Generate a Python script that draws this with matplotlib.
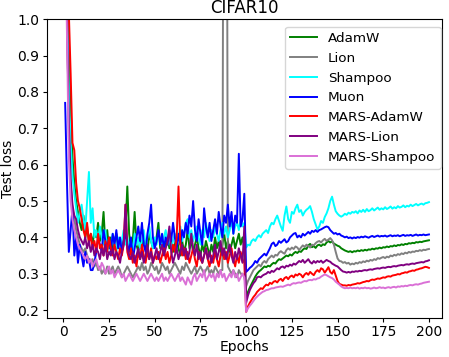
import numpy as np
import matplotlib
matplotlib.use("Agg")
import matplotlib.pyplot as plt

epochs = np.arange(1, 201)

lion = [
    1.70, 1.05, 0.68, 0.55, 0.48, 0.45, 0.42, 0.40, 0.38, 0.37,
    0.36, 0.37, 0.35, 0.34, 0.33, 0.34, 0.32, 0.33, 0.31, 0.32,
    0.30, 0.31, 0.30, 0.32, 0.30, 0.31, 0.32, 0.30, 0.31, 0.32,
    0.31, 0.29, 0.30, 0.31, 0.32, 0.31, 0.30, 0.29, 0.30, 0.31,
    0.32, 0.31, 0.33, 0.31, 0.32, 0.30, 0.31, 0.33, 0.32, 0.31,
    0.32, 0.30, 0.31, 0.33, 0.32, 0.31, 0.32, 0.30, 0.31, 0.32,
    0.33, 0.32, 0.31, 0.30, 0.32, 0.31, 0.33, 0.32, 0.31, 0.30,
    0.31, 0.32, 0.30, 0.31, 0.32, 0.31, 0.30, 0.31, 0.32, 0.30,
    0.31, 0.30, 0.32, 0.31, 0.30, 0.31, 0.31, 2.50, 2.50, 0.32,
    0.31, 0.30, 0.31, 0.30, 0.29, 0.31, 0.30, 0.30, 0.29,
    0.265, 0.28, 0.29, 0.30, 0.31, 0.315, 0.32, 0.325, 0.32, 0.33,
    0.335, 0.33, 0.34, 0.345, 0.35, 0.345, 0.352, 0.35, 0.358, 0.362,
    0.358, 0.355, 0.365, 0.37, 0.366, 0.372, 0.368, 0.375, 0.372, 0.365,
    0.372, 0.378, 0.374, 0.38, 0.376, 0.372, 0.38, 0.378, 0.384, 0.388,
    0.39, 0.386, 0.392, 0.396, 0.39, 0.394, 0.398, 0.392, 0.38, 0.36,
    0.342, 0.335, 0.334, 0.33, 0.332, 0.328, 0.33, 0.325, 0.328, 0.326,
    0.33, 0.328, 0.332, 0.33, 0.334, 0.332, 0.336, 0.334, 0.338, 0.336,
    0.34, 0.338, 0.343, 0.341, 0.344, 0.346, 0.343, 0.347, 0.345, 0.35,
    0.348, 0.352, 0.35, 0.354, 0.352, 0.356, 0.354, 0.358, 0.356, 0.36,
    0.358, 0.361, 0.36, 0.363, 0.362, 0.365, 0.363, 0.366, 0.365, 0.367,
    0.368,
]

adamw = [
    1.60, 1.20, 0.95, 0.76, 0.62, 0.55, 0.50, 0.47, 0.44, 0.42,
    0.46, 0.40, 0.43, 0.39, 0.41, 0.38, 0.42, 0.40, 0.44, 0.39,
    0.41, 0.47, 0.38, 0.42, 0.37, 0.40, 0.36, 0.39, 0.41, 0.37,
    0.38, 0.36, 0.40, 0.42, 0.54, 0.41, 0.37, 0.39, 0.47, 0.38,
    0.36, 0.39, 0.37, 0.40, 0.38, 0.36, 0.41, 0.39, 0.37, 0.38,
    0.40, 0.44, 0.37, 0.39, 0.36, 0.38, 0.40, 0.37, 0.39, 0.36,
    0.38, 0.40, 0.37, 0.35, 0.39, 0.36, 0.38, 0.42, 0.37, 0.39,
    0.36, 0.38, 0.40, 0.37, 0.35, 0.38, 0.36, 0.39, 0.37, 0.35,
    0.38, 0.36, 0.40, 0.37, 0.39, 0.36, 0.38, 0.41, 0.37, 0.39,
    0.36, 0.38, 0.40, 0.37, 0.39, 0.41, 0.38, 0.40, 0.37,
    0.235, 0.25, 0.262, 0.272, 0.282, 0.292, 0.30, 0.306, 0.31, 0.315,
    0.32, 0.318, 0.322, 0.32, 0.326, 0.33, 0.328, 0.335, 0.34, 0.338,
    0.342, 0.346, 0.35, 0.348, 0.353, 0.35, 0.356, 0.36, 0.357, 0.362,
    0.36, 0.366, 0.37, 0.368, 0.378, 0.382, 0.373, 0.376, 0.371, 0.378,
    0.38, 0.376, 0.381, 0.379, 0.386, 0.39, 0.386, 0.389, 0.383, 0.38,
    0.377, 0.375, 0.37, 0.367, 0.364, 0.362, 0.36, 0.362, 0.359, 0.362,
    0.361, 0.364, 0.362, 0.365, 0.363, 0.366, 0.364, 0.367, 0.366, 0.369,
    0.367, 0.37, 0.369, 0.372, 0.37, 0.373, 0.372, 0.375, 0.373, 0.376,
    0.375, 0.378, 0.376, 0.379, 0.378, 0.381, 0.379, 0.382, 0.381, 0.384,
    0.383, 0.385, 0.384, 0.387, 0.386, 0.388, 0.387, 0.389, 0.39, 0.391,
    0.392,
]

shampoo = [
    1.50, 1.10, 0.80, 0.66, 0.57, 0.52, 0.48, 0.44, 0.47, 0.49,
    0.45, 0.42, 0.50, 0.58, 0.44, 0.48, 0.40, 0.42, 0.39, 0.43,
    0.40, 0.38, 0.42, 0.36, 0.39, 0.37, 0.41, 0.38, 0.36, 0.40,
    0.37, 0.39, 0.42, 0.38, 0.40, 0.37, 0.39, 0.36, 0.41, 0.38,
    0.40, 0.37, 0.39, 0.42, 0.38, 0.40, 0.43, 0.39, 0.37, 0.40,
    0.38, 0.41, 0.39, 0.37, 0.40, 0.42, 0.38, 0.40, 0.37, 0.39,
    0.41, 0.38, 0.40, 0.43, 0.39, 0.41, 0.44, 0.45, 0.40, 0.42,
    0.39, 0.41, 0.43, 0.40, 0.38, 0.42, 0.40, 0.44, 0.41, 0.39,
    0.42, 0.40, 0.43, 0.41, 0.39, 0.42, 0.44, 0.41, 0.43, 0.40,
    0.42, 0.45, 0.41, 0.43, 0.44, 0.42, 0.45, 0.43, 0.44,
    0.372, 0.38, 0.378, 0.39, 0.395, 0.39, 0.40, 0.406, 0.40, 0.41,
    0.415, 0.42, 0.412, 0.43, 0.44, 0.436, 0.45, 0.46, 0.445, 0.43,
    0.418, 0.46, 0.485, 0.45, 0.44, 0.47, 0.465, 0.48, 0.49, 0.47,
    0.475, 0.46, 0.47, 0.476, 0.48, 0.486, 0.47, 0.45, 0.436, 0.422,
    0.43, 0.445, 0.44, 0.456, 0.466, 0.48, 0.50, 0.512, 0.49, 0.472,
    0.465, 0.46, 0.457, 0.46, 0.465, 0.462, 0.468, 0.465, 0.47, 0.468,
    0.472, 0.466, 0.474, 0.47, 0.476, 0.47, 0.478, 0.472, 0.475, 0.48,
    0.474, 0.478, 0.482, 0.476, 0.48, 0.477, 0.483, 0.478, 0.481, 0.485,
    0.479, 0.483, 0.48, 0.486, 0.482, 0.484, 0.488, 0.483, 0.487, 0.485,
    0.49, 0.486, 0.489, 0.492, 0.488, 0.491, 0.493, 0.49, 0.494, 0.495,
    0.497,
]

muon = [
    0.77, 0.55, 0.36, 0.42, 0.48, 0.35, 0.40, 0.33, 0.38, 0.35,
    0.32, 0.36, 0.33, 0.34, 0.31, 0.31, 0.33, 0.36, 0.40, 0.38,
    0.36, 0.42, 0.39, 0.37, 0.40, 0.36, 0.41, 0.38, 0.42, 0.37,
    0.40, 0.36, 0.39, 0.41, 0.38, 0.36, 0.40, 0.34, 0.37, 0.40,
    0.43, 0.39, 0.44, 0.38, 0.36, 0.41, 0.44, 0.49, 0.40, 0.37,
    0.39, 0.42, 0.38, 0.41, 0.37, 0.40, 0.38, 0.42, 0.39, 0.44,
    0.40, 0.37, 0.41, 0.38, 0.42, 0.40, 0.44, 0.41, 0.46, 0.43,
    0.50, 0.42, 0.39, 0.45, 0.41, 0.38, 0.48, 0.43, 0.40, 0.44,
    0.39, 0.42, 0.45, 0.41, 0.47, 0.43, 0.40, 0.46, 0.44, 0.49,
    0.43, 0.47, 0.41, 0.46, 0.44, 0.63, 0.43, 0.45, 0.52,
    0.305, 0.31, 0.316, 0.32, 0.326, 0.335, 0.33, 0.34, 0.345, 0.35,
    0.355, 0.35, 0.36, 0.37, 0.382, 0.386, 0.376, 0.38, 0.39, 0.385,
    0.39, 0.395, 0.386, 0.39, 0.40, 0.405, 0.41, 0.412, 0.40, 0.405,
    0.40, 0.41, 0.405, 0.41, 0.415, 0.41, 0.418, 0.415, 0.42, 0.415,
    0.42, 0.422, 0.425, 0.428, 0.43, 0.428, 0.42, 0.415, 0.41, 0.412,
    0.408, 0.41, 0.405, 0.403, 0.40, 0.402, 0.398, 0.40, 0.397, 0.40,
    0.398, 0.401, 0.399, 0.402, 0.40, 0.403, 0.401, 0.399, 0.402, 0.404,
    0.401, 0.403, 0.405, 0.402, 0.404, 0.403, 0.405, 0.402, 0.404, 0.406,
    0.403, 0.405, 0.404, 0.406, 0.403, 0.405, 0.407, 0.404, 0.406, 0.405,
    0.407, 0.404, 0.406, 0.408, 0.405, 0.407, 0.406, 0.408, 0.406, 0.407,
    0.408,
]

mars_adamw = [
    1.80, 1.30, 1.02, 0.85, 0.66, 0.64, 0.55, 0.50, 0.48, 0.45,
    0.42, 0.40, 0.44, 0.38, 0.41, 0.37, 0.39, 0.36, 0.41, 0.37,
    0.38, 0.35, 0.39, 0.36, 0.40, 0.37, 0.35, 0.38, 0.36, 0.34,
    0.37, 0.35, 0.38, 0.49, 0.36, 0.34, 0.37, 0.33, 0.35, 0.32,
    0.36, 0.34, 0.38, 0.35, 0.33, 0.36, 0.34, 0.37, 0.33, 0.35,
    0.34, 0.36, 0.33, 0.35, 0.37, 0.34, 0.36, 0.33, 0.35, 0.38,
    0.36, 0.40, 0.54, 0.38, 0.35, 0.37, 0.34, 0.36, 0.33, 0.35,
    0.37, 0.34, 0.32, 0.36, 0.34, 0.33, 0.35, 0.37, 0.34, 0.32,
    0.35, 0.33, 0.36, 0.34, 0.32, 0.35, 0.37, 0.34, 0.36, 0.33,
    0.35, 0.37, 0.34, 0.32, 0.35, 0.33, 0.36, 0.34, 0.33,
    0.195, 0.21, 0.22, 0.228, 0.236, 0.242, 0.25, 0.255, 0.26, 0.258,
    0.265, 0.27, 0.268, 0.275, 0.272, 0.278, 0.28, 0.276, 0.283, 0.286,
    0.28, 0.288, 0.291, 0.285, 0.292, 0.295, 0.29, 0.298, 0.295, 0.30,
    0.297, 0.29, 0.298, 0.302, 0.297, 0.305, 0.30, 0.296, 0.305, 0.31,
    0.305, 0.315, 0.312, 0.303, 0.31, 0.318, 0.305, 0.30, 0.31, 0.295,
    0.28, 0.272, 0.27, 0.268, 0.268, 0.267, 0.269, 0.268, 0.27, 0.271,
    0.272, 0.274, 0.273, 0.275, 0.277, 0.278, 0.28, 0.279, 0.282, 0.284,
    0.283, 0.285, 0.287, 0.286, 0.288, 0.29, 0.289, 0.292, 0.293, 0.292,
    0.295, 0.296, 0.297, 0.299, 0.298, 0.301, 0.302, 0.304, 0.303, 0.306,
    0.307, 0.309, 0.308, 0.311, 0.312, 0.314, 0.315, 0.317, 0.319, 0.318,
    0.316,
]

mars_lion = [
    1.40, 1.00, 0.72, 0.56, 0.49, 0.46, 0.45, 0.42, 0.40, 0.39,
    0.38, 0.40, 0.37, 0.39, 0.36, 0.38, 0.35, 0.37, 0.36, 0.34,
    0.37, 0.35, 0.38, 0.34, 0.36, 0.35, 0.37, 0.34, 0.36, 0.35,
    0.33, 0.36, 0.38, 0.49, 0.37, 0.35, 0.34, 0.36, 0.33, 0.35,
    0.37, 0.34, 0.36, 0.33, 0.35, 0.38, 0.34, 0.36, 0.33, 0.35,
    0.37, 0.34, 0.36, 0.38, 0.35, 0.37, 0.39, 0.43, 0.36, 0.33,
    0.35, 0.37, 0.34, 0.36, 0.38, 0.35, 0.37, 0.34, 0.36, 0.41,
    0.37, 0.35, 0.38, 0.34, 0.36, 0.33, 0.35, 0.37, 0.34, 0.36,
    0.33, 0.35, 0.38, 0.34, 0.36, 0.39, 0.35, 0.37, 0.34, 0.36,
    0.38, 0.35, 0.33, 0.36, 0.34, 0.37, 0.35, 0.33, 0.43,
    0.22, 0.24, 0.255, 0.265, 0.274, 0.28, 0.29, 0.292, 0.29, 0.295,
    0.298, 0.30, 0.305, 0.302, 0.308, 0.305, 0.31, 0.315, 0.312, 0.318,
    0.32, 0.316, 0.322, 0.32, 0.325, 0.322, 0.328, 0.325, 0.33, 0.335,
    0.332, 0.338, 0.33, 0.335, 0.34, 0.332, 0.328, 0.335, 0.33, 0.335,
    0.332, 0.336, 0.33, 0.334, 0.338, 0.335, 0.333, 0.328, 0.325, 0.322,
    0.32, 0.315, 0.31, 0.306, 0.305, 0.303, 0.305, 0.303, 0.306, 0.305,
    0.307, 0.306, 0.308, 0.307, 0.309, 0.31, 0.309, 0.311, 0.312, 0.311,
    0.313, 0.314, 0.315, 0.314, 0.316, 0.317, 0.316, 0.318, 0.319, 0.318,
    0.32, 0.321, 0.32, 0.322, 0.323, 0.324, 0.323, 0.325, 0.326, 0.325,
    0.327, 0.328, 0.327, 0.329, 0.33, 0.331, 0.332, 0.331, 0.334, 0.335,
    0.337,
]

mars_shampoo = [
    1.30, 0.95, 0.62, 0.50, 0.45, 0.42, 0.40, 0.38, 0.37, 0.36,
    0.35, 0.34, 0.35, 0.33, 0.34, 0.32, 0.33, 0.34, 0.32, 0.31,
    0.33, 0.32, 0.30, 0.31, 0.32, 0.30, 0.31, 0.29, 0.30, 0.31,
    0.30, 0.29, 0.30, 0.28, 0.29, 0.30, 0.29, 0.28, 0.29, 0.30,
    0.29, 0.28, 0.29, 0.30, 0.29, 0.28, 0.29, 0.30, 0.29, 0.28,
    0.29, 0.28, 0.29, 0.30, 0.28, 0.29, 0.28, 0.29, 0.30, 0.29,
    0.28, 0.29, 0.30, 0.28, 0.29, 0.28, 0.27, 0.29, 0.28, 0.27,
    0.29, 0.30, 0.28, 0.29, 0.30, 0.29, 0.31, 0.28, 0.29, 0.30,
    0.29, 0.30, 0.28, 0.30, 0.29, 0.31, 0.29, 0.30, 0.28, 0.29,
    0.30, 0.29, 0.31, 0.29, 0.30, 0.28, 0.29, 0.30, 0.29,
    0.195, 0.205, 0.212, 0.218, 0.225, 0.232, 0.237, 0.242, 0.246, 0.25,
    0.252, 0.255, 0.256, 0.258, 0.26, 0.26, 0.262, 0.263, 0.264, 0.265,
    0.264, 0.266, 0.268, 0.27, 0.268, 0.272, 0.274, 0.273, 0.275, 0.276,
    0.275, 0.278, 0.28, 0.279, 0.282, 0.283, 0.282, 0.285, 0.284, 0.287,
    0.288, 0.292, 0.295, 0.298, 0.296, 0.293, 0.29, 0.288, 0.284, 0.278,
    0.274, 0.27, 0.265, 0.262, 0.26, 0.261, 0.26, 0.262, 0.26, 0.261,
    0.26, 0.262, 0.259, 0.261, 0.26, 0.262, 0.26, 0.261, 0.259, 0.26,
    0.262, 0.26, 0.261, 0.263, 0.261, 0.262, 0.26, 0.262, 0.263, 0.261,
    0.263, 0.264, 0.262, 0.265, 0.264, 0.266, 0.265, 0.267, 0.266, 0.268,
    0.269, 0.268, 0.27, 0.271, 0.27, 0.272, 0.273, 0.275, 0.276, 0.277,
    0.278,
]

labels = ["AdamW", "Lion", "Shampoo", "Muon", "MARS-AdamW", "MARS-Lion", "MARS-Shampoo"]
series = [adamw, lion, shampoo, muon, mars_adamw, mars_lion, mars_shampoo]
colors = ["green", "gray", "cyan", "blue", "red", "purple", "orchid"]

plt.rcParams["font.size"] = 10
plt.rcParams["axes.titlesize"] = 12

fig = plt.figure(figsize=(4.49, 3.57), dpi=100)
ax = fig.add_axes([46.7 / 449, 1 - 317.7 / 357, (442.3 - 46.7) / 449, (317.7 - 19.3) / 357])
for ys, lab, col in zip(series, labels, colors):
    ax.plot(epochs, ys, color=col, label=lab, linewidth=1.4)

ax.set_xlim(-9.1, 207.3)
ax.set_ylim(0.179, 1.0)
ax.set_xticks([0, 25, 50, 75, 100, 125, 150, 175, 200])
ax.set_yticks([0.2, 0.3, 0.4, 0.5, 0.6, 0.7, 0.8, 0.9, 1.0])
ax.tick_params(axis="both", length=3, pad=2.2, labelsize=10)
ax.set_title("CIFAR10", pad=4.3)
ax.set_xlabel("Epochs", labelpad=1)
ax.set_ylabel("Test loss", labelpad=2)
ax.legend(loc="upper right", bbox_to_anchor=(440.7 / 449, 1 - 26.7 / 357),
          bbox_transform=fig.transFigure, borderaxespad=0, fontsize=9.7)
fig.savefig("out.png", dpi=100)
